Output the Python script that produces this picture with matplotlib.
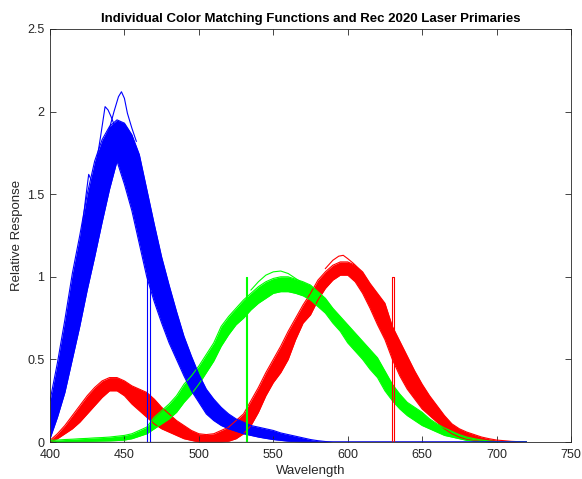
import matplotlib
matplotlib.use("Agg")
import matplotlib.pyplot as plt
import numpy as np

plt.rcParams['font.family'] = ['Liberation Sans', 'DejaVu Sans']

# wavelengths (nm), 5 nm steps
wl = np.arange(400, 725, 5)

# ---- blue (z-bar-like) band: lower / upper envelope of the observers ----
blue_low = [0.02, 0.15, 0.30, 0.50, 0.70, 0.92, 1.12, 1.33, 1.53, 1.70,
            1.56, 1.40, 1.20, 1.00, 0.85, 0.72, 0.60, 0.50, 0.40, 0.31,
            0.24, 0.17, 0.13, 0.10, 0.08, 0.065, 0.05, 0.04, 0.03, 0.022,
            0.015, 0.01, 0.005, 0.002, 0.0, 0.0, 0.0, 0.0, 0.0, 0.0,
            0.0, 0.0, 0.0, 0.0, 0.0, 0.0, 0.0, 0.0, 0.0, 0.0,
            0.0, 0.0, 0.0, 0.0, 0.0, 0.0, 0.0, 0.0, 0.0, 0.0,
            0.0, 0.0, 0.0, 0.0, 0.0]
blue_high = [0.25, 0.48, 0.74, 1.02, 1.25, 1.50, 1.70, 1.83, 1.91, 1.95,
             1.93, 1.86, 1.74, 1.53, 1.32, 1.12, 0.95, 0.79, 0.64, 0.52,
             0.41, 0.32, 0.26, 0.21, 0.17, 0.14, 0.12, 0.10, 0.09, 0.08,
             0.07, 0.055, 0.045, 0.035, 0.025, 0.015, 0.008, 0.003, 0.0, 0.0,
             0.0, 0.0, 0.0, 0.0, 0.0, 0.0, 0.0, 0.0, 0.0, 0.0,
             0.0, 0.0, 0.0, 0.0, 0.0, 0.0, 0.0, 0.0, 0.0, 0.0,
             0.0, 0.0, 0.0, 0.0, 0.0]

# ---- green (y-bar-like) band ----
green_low = [0.0, 0.0, 0.0, 0.002, 0.003, 0.004, 0.005, 0.006, 0.007, 0.009,
             0.012, 0.02, 0.035, 0.05, 0.08, 0.11, 0.14, 0.18, 0.24, 0.29,
             0.35, 0.42, 0.49, 0.58, 0.65, 0.71, 0.75, 0.80, 0.84, 0.87,
             0.90, 0.91, 0.91, 0.90, 0.885, 0.86, 0.82, 0.78, 0.72, 0.67,
             0.60, 0.55, 0.50, 0.44, 0.39, 0.31, 0.25, 0.20, 0.16, 0.13,
             0.10, 0.08, 0.06, 0.04, 0.03, 0.02, 0.01, 0.005, 0.002, 0.0,
             0.0, 0.0, 0.0, 0.0, 0.0]
green_high = [0.01, 0.012, 0.015, 0.017, 0.02, 0.022, 0.025, 0.027, 0.03, 0.035,
              0.04, 0.05, 0.07, 0.09, 0.15, 0.19, 0.23, 0.28, 0.35, 0.40,
              0.46, 0.53, 0.60, 0.70, 0.76, 0.81, 0.86, 0.90, 0.94, 0.97,
              0.99, 1.00, 1.00, 0.985, 0.97, 0.95, 0.91, 0.87, 0.81, 0.76,
              0.71, 0.66, 0.61, 0.56, 0.51, 0.43, 0.35, 0.29, 0.24, 0.21,
              0.18, 0.14, 0.11, 0.085, 0.065, 0.045, 0.03, 0.02, 0.012, 0.006,
              0.002, 0.0, 0.0, 0.0, 0.0]

# ---- red (x-bar-like) band ----
red_low = [0.0, 0.02, 0.05, 0.08, 0.12, 0.17, 0.22, 0.27, 0.31, 0.31,
           0.28, 0.23, 0.19, 0.15, 0.11, 0.08, 0.06, 0.04, 0.02, 0.01,
           0.0, 0.0, 0.0, 0.0, 0.005, 0.02, 0.05, 0.10, 0.18, 0.28,
           0.36, 0.42, 0.50, 0.62, 0.72, 0.77, 0.86, 0.93, 0.98, 1.01,
           1.01, 0.97, 0.90, 0.81, 0.71, 0.62, 0.50, 0.40, 0.32, 0.26,
           0.20, 0.16, 0.12, 0.08, 0.05, 0.03, 0.015, 0.008, 0.004, 0.002,
           0.001, 0.0, 0.0, 0.0, 0.0]
red_high = [0.01, 0.05, 0.10, 0.16, 0.22, 0.28, 0.33, 0.37, 0.39, 0.39,
            0.37, 0.34, 0.32, 0.30, 0.26, 0.21, 0.17, 0.13, 0.10, 0.07,
            0.05, 0.045, 0.05, 0.07, 0.09, 0.13, 0.17, 0.25, 0.33, 0.42,
            0.50, 0.58, 0.67, 0.75, 0.83, 0.90, 0.98, 1.03, 1.07, 1.09,
            1.09, 1.07, 1.03, 0.96, 0.90, 0.84, 0.70, 0.61, 0.52, 0.43,
            0.35, 0.28, 0.22, 0.16, 0.11, 0.08, 0.06, 0.045, 0.03, 0.02,
            0.012, 0.008, 0.004, 0.002, 0.0]

# ---- individual outlier observers seen outside the bands ----
blue_out1_wl = [436, 440, 443, 446, 448, 450, 452, 455, 458]
blue_out1 = [1.82, 1.90, 2.00, 2.09, 2.12, 2.08, 1.99, 1.90, 1.82]
blue_out2_wl = [428, 431, 434, 436, 437, 439, 441, 444]
blue_out2 = [1.55, 1.68, 1.85, 1.97, 2.03, 2.01, 1.97, 1.90]
blue_out3_wl = [418, 421, 424, 426, 428, 430, 432]
blue_out3 = [1.05, 1.25, 1.48, 1.62, 1.58, 1.52, 1.60]
green_out_wl = [535, 540, 545, 550, 555, 560, 565, 570]
green_out = [0.92, 0.97, 1.01, 1.03, 1.035, 1.02, 0.99, 0.96]
red_out_wl = [585, 590, 594, 597, 600, 604, 608]
red_out = [1.05, 1.10, 1.125, 1.13, 1.11, 1.08, 1.04]

# ---- Rec 2020 laser primaries (spectra, relative) ----
laser_b_wl = [400, 465.4, 465.4, 467.4, 467.4, 720]
laser_g_wl = [400, 531.6, 531.6, 532.6, 532.6, 720]
laser_r_wl = [400, 629.7, 629.7, 631.3, 631.3, 720]
laser_val = [0, 0, 1, 1, 0, 0]

xticks = [400, 450, 500, 550, 600, 650, 700, 750]
yticks = [0, 0.5, 1, 1.5, 2, 2.5]
ytick_labels = ['0', '0.5', '1', '1.5', '2', '2.5']

fig = plt.figure(figsize=(5.82, 4.79), dpi=100)
ax = fig.add_axes([0.0859, 0.0772, 0.8952, 0.8623])

RED, GREEN, BLUE = '#ff0000', '#00ff00', '#0000ff'
bands = [(red_low, red_high, RED), (green_low, green_high, GREEN),
         (blue_low, blue_high, BLUE)]
for lo, hi, c in bands:
    ax.fill_between(wl, lo, hi, color=c, linewidth=0)
    ax.plot(wl, lo, color=c, lw=0.8)
    ax.plot(wl, hi, color=c, lw=0.8)

ax.plot(red_out_wl, red_out, color=RED, lw=0.8)
ax.plot(green_out_wl, green_out, color=GREEN, lw=0.8)
ax.plot(blue_out1_wl, blue_out1, color=BLUE, lw=0.8)
ax.plot(blue_out2_wl, blue_out2, color=BLUE, lw=0.8)
ax.plot(blue_out3_wl, blue_out3, color=BLUE, lw=0.8)

ax.plot(laser_r_wl, laser_val, color=RED, lw=0.8)
ax.plot(laser_g_wl, laser_val, color=GREEN, lw=0.8)
ax.plot(laser_b_wl, laser_val, color=BLUE, lw=0.8)

ax.set_xlim(400, 750)
ax.set_ylim(0, 2.5)
ax.set_xticks(xticks)
ax.set_yticks(yticks)
ax.set_yticklabels(ytick_labels)
ax.tick_params(direction='in', top=True, right=True, length=4, width=0.6,
               labelsize=9, colors='#262626')
ax.tick_params(axis='x', pad=5)
ax.tick_params(axis='y', pad=4)
for s in ax.spines.values():
    s.set_linewidth(0.6)
    s.set_color('#262626')

ax.set_xlabel('Wavelength', fontsize=9.5, color='#262626', labelpad=3)
ax.set_ylabel('Relative Response', fontsize=9.5, color='#262626', labelpad=3)
ax.set_title('Individual Color Matching Functions and Rec 2020 Laser Primaries',
             fontsize=9.5, fontweight='bold', pad=5)

fig.savefig('out.png', dpi=100)
